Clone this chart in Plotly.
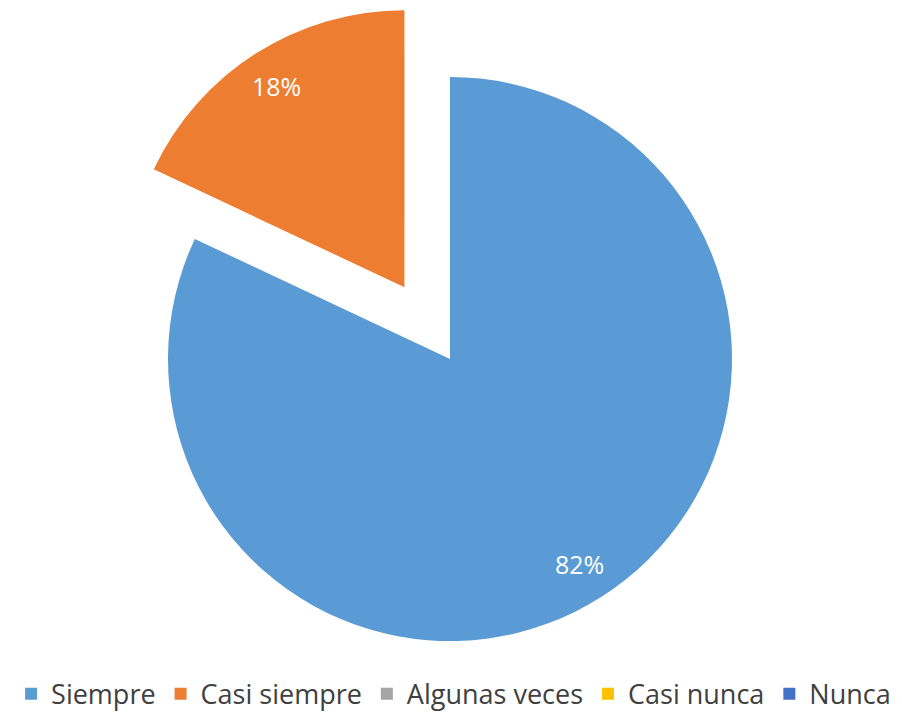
import math
import plotly.graph_objects as go

labels = ["Siempre", "Casi siempre", "Algunas veces", "Casi nunca", "Nunca"]
values = [82, 18, 0, 0, 0]
colors = ["#5B9BD5", "#ED7D31", "#A5A5A5", "#FFC000", "#4472C4"]

W, H = 902, 712
PAGE_OFF = 8       # default body margin of the html page
R = 282            # main pie radius in px
R_EXP = 277        # exploded slice radius in px
main_c = (450 - PAGE_OFF, 359 - PAGE_OFF)  # pie centre inside the figure
pull_px = 85       # how far the exploded slice moves out

clear = "rgba(0,0,0,0)"
total = sum(values)
pct = [f"{round(100 * v / total)}%" for v in values]


def domain_for(cx, cy, r):
    return dict(x=[(cx - r) / W, (cx + r) / W],
                y=[max(0, 1 - (cy + r) / H), min(1, 1 - (cy - r) / H)])


# bisector angles (clockwise from 12 o'clock) of the two visible slices
start = 0.0
mids = []
for v in values[:2]:
    ang = 360 * v / total
    mids.append(start + ang / 2)
    start += ang

mid_o = math.radians(mids[1])
exp_c = (main_c[0] + pull_px * math.sin(mid_o), main_c[1] - pull_px * math.cos(mid_o))
centres = [main_c, exp_c]
radii = [R, R_EXP]

fig = go.Figure()

# main pie: only Siempre visible
fig.add_trace(go.Pie(
    labels=labels[:2], values=values[:2], sort=False, direction="clockwise",
    rotation=0, marker=dict(colors=[colors[0], clear]),
    textinfo="none", domain=domain_for(*main_c, R),
    showlegend=False, hoverinfo="skip",
))

# exploded slice drawn as its own pie, shifted out along its bisector
fig.add_trace(go.Pie(
    labels=labels[:2], values=values[:2], sort=False, direction="clockwise",
    rotation=0, marker=dict(colors=[clear, colors[1]]),
    textinfo="none", domain=domain_for(*exp_c, R_EXP),
    showlegend=False, hoverinfo="skip",
))

# data labels, placed near the outer edge along each slice bisector
for i in range(2):
    a = math.radians(mids[i])
    cx, cy = centres[i]
    k = 0.86
    px = cx + k * radii[i] * math.sin(a)
    py_ = cy - k * radii[i] * math.cos(a)
    fig.add_annotation(x=px / W, y=1 - py_ / H, xref="paper", yref="paper",
                       xanchor="center", yanchor="middle",
                       text=pct[i], showarrow=False,
                       font=dict(family="Open Sans", size=25, color="white"))

# legend entries
for lab, col in zip(labels, colors):
    fig.add_trace(go.Scatter(
        x=[None], y=[None], mode="markers", name=lab,
        marker=dict(symbol="square", size=12, color=col),
    ))

fig.update_layout(
    width=W, height=H,
    margin=dict(l=0, r=0, t=0, b=0, autoexpand=False),
    paper_bgcolor="white", plot_bgcolor="white",
    xaxis=dict(visible=False), yaxis=dict(visible=False),
    font=dict(family="Open Sans", color="#404040"),
    legend=dict(orientation="h", x=0.494, xanchor="center", y=0.002, yanchor="bottom",
                font=dict(family="Open Sans", size=27, color="#404040"),
                itemwidth=30, tracegroupgap=0),
)

fig.write_html("out.html")
